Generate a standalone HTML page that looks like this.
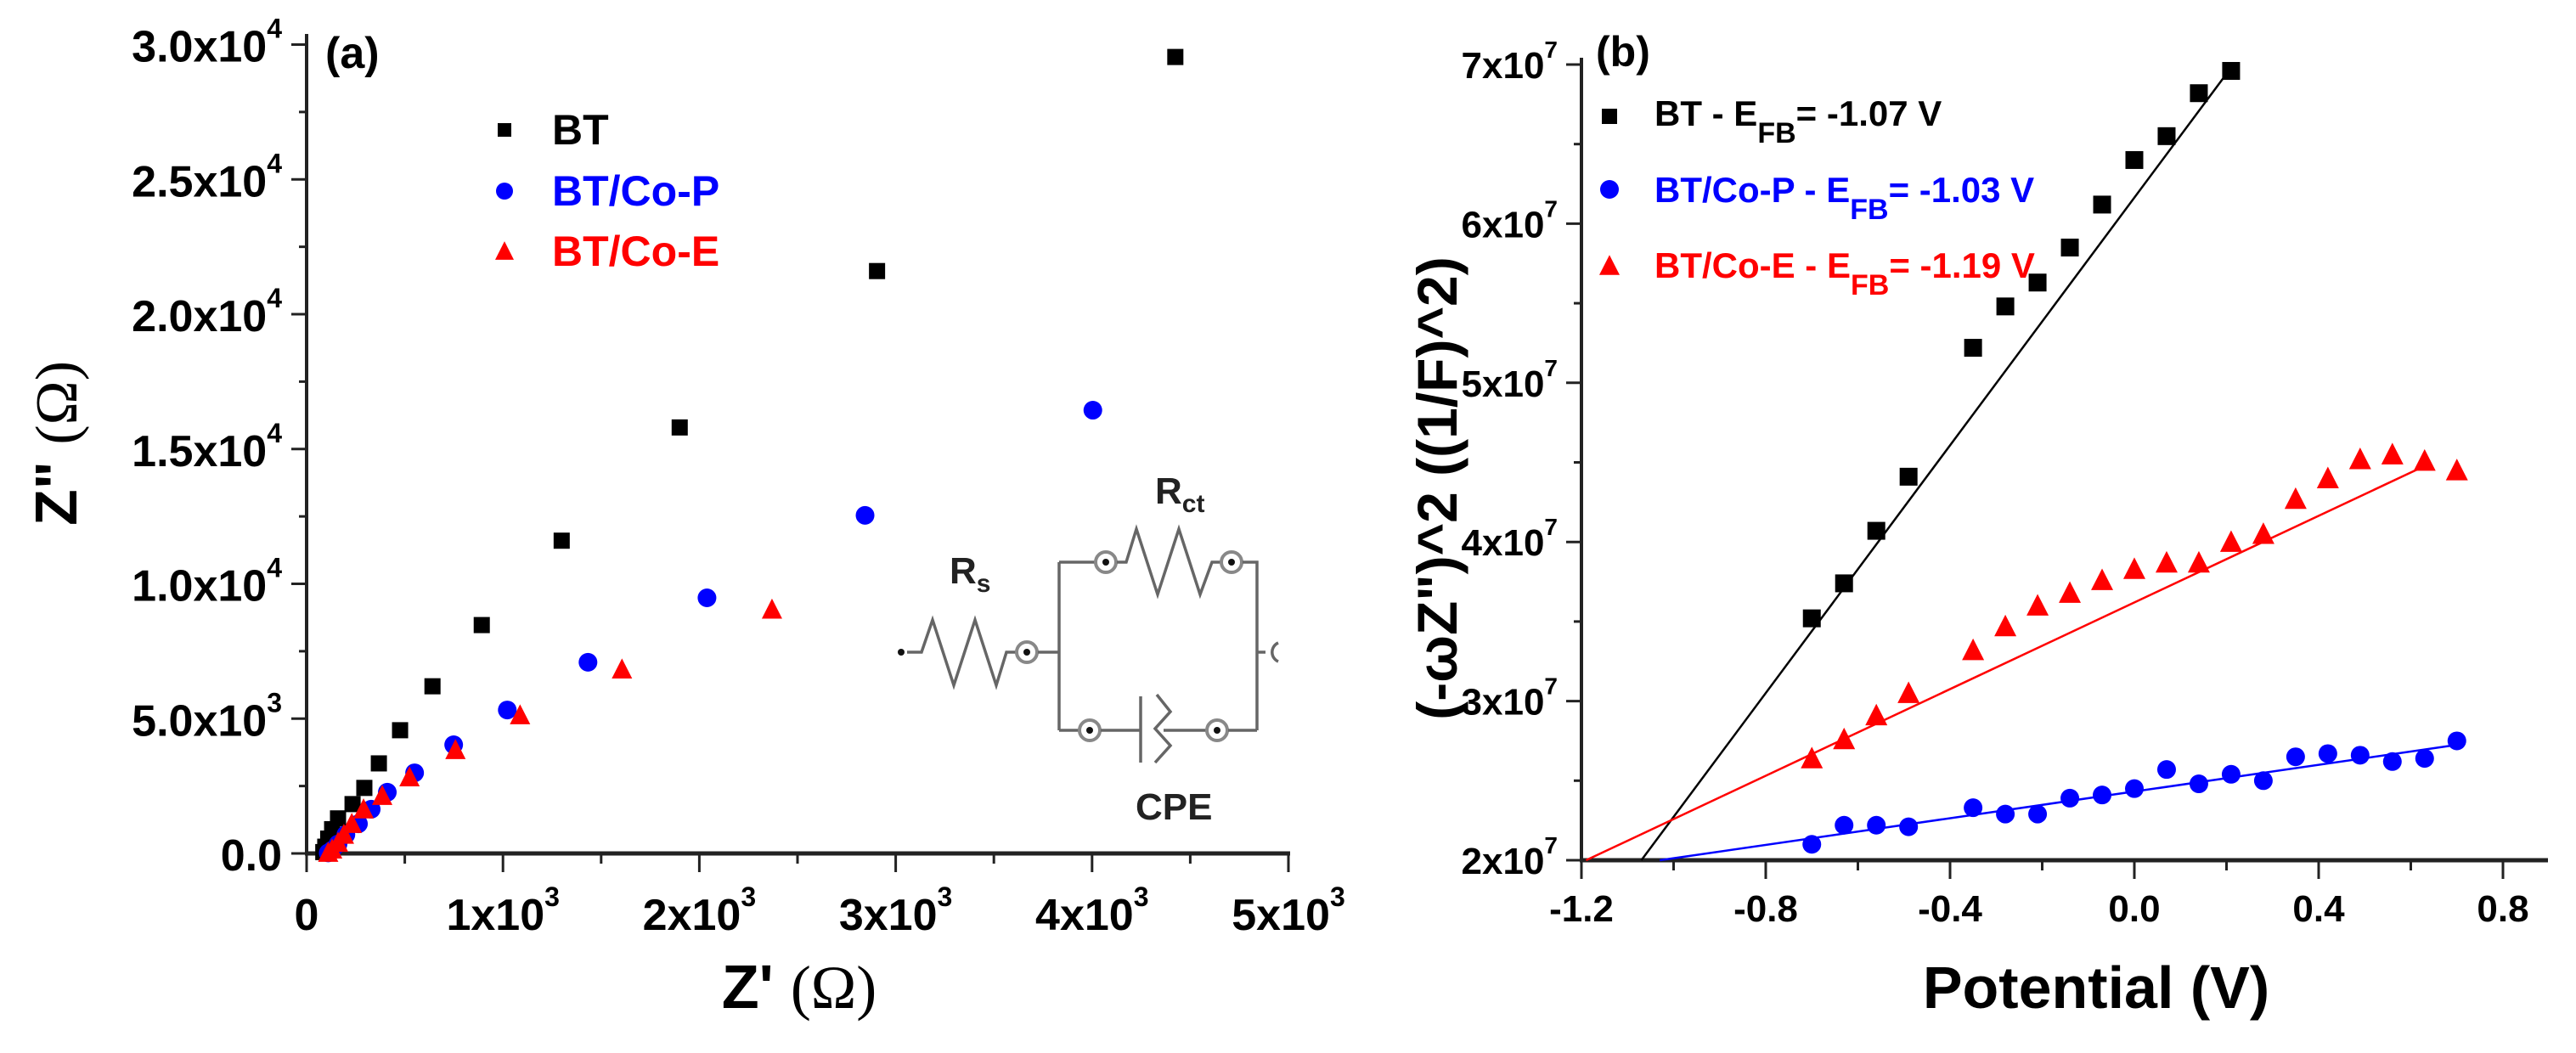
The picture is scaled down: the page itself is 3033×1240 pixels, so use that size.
<!DOCTYPE html>
<html><head><meta charset="utf-8"><style>
html,body{margin:0;padding:0;background:#fff;}
svg{display:block;font-family:"Liberation Sans",Arial,sans-serif;}
</style></head><body>
<svg id="fig" width="3033" height="1240" viewBox="0 0 3033 1240" xmlns="http://www.w3.org/2000/svg">
<rect width="3033" height="1240" fill="#fff"/>
<g id="pa"></g>
<g id="pb"></g>
<g id="circuit" stroke="#666" stroke-width="3.5" fill="none">
  <circle cx="1061" cy="768" r="4" fill="#111" stroke="none"/>
  <polyline points="1068,768 1085,768 1098,730 1123,807 1148,730 1173,807 1185,768 1196,768"/>
  <circle cx="1209" cy="768" r="12" stroke="#888" stroke-width="4"/><circle cx="1209" cy="768" r="4" fill="#111" stroke="none"/>
  <polyline points="1222,768 1247,768"/>
  <polyline points="1247,662 1247,860"/>
  <polyline points="1247,662 1289,662"/>
  <circle cx="1302" cy="662" r="12" stroke="#888" stroke-width="4"/><circle cx="1302" cy="662" r="4" fill="#111" stroke="none"/>
  <polyline points="1315,662 1326,662 1338,623 1363,700 1388,623 1413,700 1427,662 1437,662"/>
  <circle cx="1450" cy="662" r="12" stroke="#888" stroke-width="4"/><circle cx="1450" cy="662" r="4" fill="#111" stroke="none"/>
  <polyline points="1463,662 1480,662 1480,860"/>
  <polyline points="1247,860 1270,860"/>
  <circle cx="1283" cy="860" r="12" stroke="#888" stroke-width="4"/><circle cx="1283" cy="860" r="4" fill="#111" stroke="none"/>
  <polyline points="1296,860 1343,860"/>
  <polyline points="1343,820 1343,898"/>
  <polyline points="1362,818 1378,838 1360,858 1378,878 1360,898"/>
  <polyline points="1370,860 1420,860"/>
  <circle cx="1433" cy="860" r="12" stroke="#888" stroke-width="4"/><circle cx="1433" cy="860" r="4" fill="#111" stroke="none"/>
  <polyline points="1446,860 1480,860"/>
  <polyline points="1480,768 1490,768"/>
  <path d="M1505,757 A12,12 0 0 0 1505,779"/>
  <text x="1118" y="687" fill="#222" stroke="none" font-size="44" font-weight="bold">R<tspan font-size="30" dy="10">s</tspan></text>
  <text x="1360" y="593" fill="#222" stroke="none" font-size="44" font-weight="bold">R<tspan font-size="30" dy="10">ct</tspan></text>
  <text x="1337" y="965" fill="#222" stroke="none" font-size="44" font-weight="bold">CPE</text>
</g>
</svg>
<script>
// ---------- Panel (a) data ----------
const aXTicks = [0, 1000, 2000, 3000, 4000, 5000];
const aXTickLabels = ["0", "1x10", "2x10", "3x10", "4x10", "5x10"];
const aYTicks = [0, 5000, 10000, 15000, 20000, 25000, 30000];
const aYTickLabels = ["0.0", "5.0x10", "1.0x10", "1.5x10", "2.0x10", "2.5x10", "3.0x10"];
const aYTickExp = ["", "3", "4", "4", "4", "4", "4"];
const btX = [85, 95, 110, 130, 160, 234, 294, 368, 476, 641, 892, 1299, 1900, 2905, 4424];
const btY = [50, 250, 550, 900, 1300, 1830, 2430, 3340, 4570, 6200, 8470, 11600, 15800, 21600, 29540];
const coPX = [110, 130, 160, 200, 264, 329, 411, 550, 749, 1022, 1433, 2039, 2844, 4004];
const coPY = [20, 120, 350, 700, 1100, 1640, 2270, 2990, 4030, 5320, 7090, 9480, 12540, 16440];
const coEX = [110, 130, 160, 190, 230, 290, 385, 524, 758, 1087, 1606, 2370];
const coEY = [30, 150, 400, 700, 1100, 1640, 2140, 2830, 3840, 5130, 6830, 9050];
// ---------- Panel (b) data ----------
const bXTicks = [-1.2, -0.8, -0.4, 0.0, 0.4, 0.8];
const bXTickLabels = ["-1.2", "-0.8", "-0.4", "0.0", "0.4", "0.8"];
const bYTicks = [2, 3, 4, 5, 6, 7];
const bYTickLabels = ["2x10", "3x10", "4x10", "5x10", "6x10", "7x10"];
const potBT = [-0.70, -0.63, -0.56, -0.49, -0.35, -0.28, -0.21, -0.14, -0.07, 0.0, 0.07, 0.14, 0.21];
const valBT = [3.52, 3.74, 4.07, 4.41, 5.22, 5.48, 5.63, 5.85, 6.12, 6.40, 6.55, 6.82, 6.96];
const potCo = [-0.70, -0.63, -0.56, -0.49, -0.35, -0.28, -0.21, -0.14, -0.07, 0.0, 0.07, 0.14, 0.21, 0.28, 0.35, 0.42, 0.49, 0.56, 0.63, 0.70];
const valCoP = [2.10, 2.22, 2.22, 2.21, 2.33, 2.29, 2.29, 2.39, 2.41, 2.45, 2.57, 2.48, 2.54, 2.50, 2.65, 2.67, 2.66, 2.62, 2.64, 2.75];
const valCoE = [2.64, 2.76, 2.91, 3.05, 3.32, 3.47, 3.60, 3.68, 3.76, 3.83, 3.87, 3.87, 4.00, 4.05, 4.27, 4.40, 4.52, 4.55, 4.51, 4.45];
const efb = [-1.07, -1.03, -1.19];
const fitEnd = [0.21, 0.70, 0.63];
const legendB = ["BT - E", "BT/Co-P - E", "BT/Co-E - E"];
const legendBVal = ["= -1.07 V", "= -1.03 V", "= -1.19 V"];

const NS = "http://www.w3.org/2000/svg";
function mk(parent, tag, attrs, text) {
  const e = document.createElementNS(NS, tag);
  for (const k in attrs) e.setAttribute(k, attrs[k]);
  if (text !== undefined) e.textContent = text;
  parent.appendChild(e);
  return e;
}
const ax = v => 361 + v * 0.2312;
const ay = v => 1005 - v * 0.03175;
const bx = v => 1862 + (v + 1.2) * 542.5;
const by = v => 1013 - (v - 2) * 187.4;

const pa = document.getElementById('pa');
const pb = document.getElementById('pb');

let el;
el = mk(pa, 'line', {x1: 361, y1: 40, x2: 361, y2: 1007, stroke: '#222', 'stroke-width': 4});


el = mk(pa, 'line', {x1: 359, y1: 1005, x2: 1519, y2: 1005, stroke: '#222', 'stroke-width': 5});


for (let v = 0; v <= 5000; v += 500) {
  const major = v % 1000 === 0;
  mk(pa, 'line', {x1: ax(v), y1: 1005, x2: ax(v), y2: 1005 + (major ? 22 : 12), stroke: '#222', 'stroke-width': 3});
}
for (let v = 0; v <= 30000; v += 2500) {
  const major = v % 5000 === 0;
  mk(pa, 'line', {x1: 361, y1: ay(v), x2: 361 - (major ? 18 : 9), y2: ay(v), stroke: '#222', 'stroke-width': 3});
}
aXTicks.forEach((v, i) => {
  const t = mk(pa, 'text', {x: ax(v), y: 1095, 'font-size': 52, 'font-weight': 'bold', 'text-anchor': 'middle'});
  
  
  t.textContent = aXTickLabels[i];
  if (i > 0) mk(t, 'tspan', {'font-size': 32, dy: -28}, '3');
});
aYTicks.forEach((v, i) => {
  const t = mk(pa, 'text', {x: 332, y: ay(v) + 20, 'font-size': 52, 'font-weight': 'bold', 'text-anchor': 'end'});
  
  
  t.textContent = aYTickLabels[i];
  if (aYTickExp[i]) mk(t, 'tspan', {'font-size': 32, dy: -28}, aYTickExp[i]);
});
el = mk(pa, 'text', {x: 383, y: 80, 'font-size': 52, 'font-weight': 'bold'}, '(a)');


el = mk(pa, 'text', {x: 941, y: 1187, 'font-size': 72, 'font-weight': 'bold', 'text-anchor': 'middle'});


el.textContent = "Z' ";
mk(el, 'tspan', {'font-family': '"Liberation Serif", serif', 'font-weight': 'normal'}, '(Ω)');
el = mk(pa, 'text', {x: 0, y: 0, 'font-size': 70, 'font-weight': 'bold', 'text-anchor': 'middle', transform: 'translate(90,522) rotate(-90)'});


el.textContent = 'Z" ';
mk(el, 'tspan', {'font-family': '"Liberation Serif", serif', 'font-weight': 'normal'}, '(Ω)');

function square(g, cx, cy, s, fill, name) {
  const e = mk(g, 'rect', {x: cx - s / 2, y: cy - s / 2, width: s, height: s, fill: fill});
  
  
}
function circ(g, cx, cy, r, fill, name) {
  const e = mk(g, 'circle', {cx: cx, cy: cy, r: r, fill: fill});
  
  
}
function tri(g, cx, cy, s, fill, name) {
  const h = s * 0.9;
  const e = mk(g, 'polygon', {points: `${cx},${cy - h / 2 - 2} ${cx - s / 2},${cy + h / 2} ${cx + s / 2},${cy + h / 2}`, fill: fill});
  
  
}
btX.forEach((x, i) => square(pa, ax(x), ay(btY[i]), 19, '#000', 'bt-point'));
coPX.forEach((x, i) => circ(pa, ax(coPX[i]), ay(coPY[i]), 11, '#0000ff', 'bt-co-p-point'));
coEX.forEach((x, i) => tri(pa, ax(x), ay(coEY[i]), 24, '#ff0000', 'bt-co-e-point'));

square(pa, 594, 153, 16, '#000', 'legend-bt-marker');
circ(pa, 594, 225, 10, '#0000ff', 'legend-co-p-marker');
tri(pa, 594, 296, 22, '#ff0000', 'legend-co-e-marker');
[['BT', '#000', 170], ['BT/Co-P', '#0000ff', 242], ['BT/Co-E', '#ff0000', 313]].forEach(d => {
  const t = mk(pa, 'text', {x: 650, y: d[2], 'font-size': 50, 'font-weight': 'bold', fill: d[1]}, d[0]);
  
  
});

el = mk(pb, 'line', {x1: 1862, y1: 68, x2: 1862, y2: 1015, stroke: '#222', 'stroke-width': 4});


el = mk(pb, 'line', {x1: 1860, y1: 1013, x2: 3000, y2: 1013, stroke: '#222', 'stroke-width': 5});


for (let k = 0; k <= 10; k++) {
  const v = -1.2 + k * 0.2;
  mk(pb, 'line', {x1: bx(v), y1: 1013, x2: bx(v), y2: 1013 + (k % 2 === 0 ? 22 : 12), stroke: '#222', 'stroke-width': 3});
}
for (let k = 0; k <= 10; k++) {
  const v = 2 + k * 0.5;
  mk(pb, 'line', {x1: 1862, y1: by(v), x2: 1862 - (k % 2 === 0 ? 18 : 9), y2: by(v), stroke: '#222', 'stroke-width': 3});
}
bXTicks.forEach((v, i) => {
  const t = mk(pb, 'text', {x: bx(v), y: 1085, 'font-size': 44, 'font-weight': 'bold', 'text-anchor': 'middle'}, bXTickLabels[i]);
  
  
});
bYTicks.forEach((v, i) => {
  const t = mk(pb, 'text', {x: 1834, y: by(v) + 16, 'font-size': 44, 'font-weight': 'bold', 'text-anchor': 'end'}, bYTickLabels[i]);
  
  
  mk(t, 'tspan', {'font-size': 28, dy: -24}, '7');
});
el = mk(pb, 'text', {x: 1879, y: 78, 'font-size': 50, 'font-weight': 'bold'}, '(b)');


el = mk(pb, 'text', {x: 2468, y: 1187, 'font-size': 70, 'font-weight': 'bold', 'text-anchor': 'middle'}, 'Potential (V)');


el = mk(pb, 'text', {x: 0, y: 0, 'font-size': 66, 'font-weight': 'bold', 'text-anchor': 'middle', transform: 'translate(1715,575) rotate(-90)'}, '(-ωZ")^2 ((1/F)^2)');



function slope(xs, ys) {
  const n = xs.length, mx = xs.reduce((a, b) => a + b) / n, my = ys.reduce((a, b) => a + b) / n;
  let sxy = 0, sxx = 0;
  for (let i = 0; i < n; i++) { sxy += (xs[i] - mx) * (ys[i] - my); sxx += (xs[i] - mx) ** 2; }
  return sxy / sxx;
}
const series = [[potBT, valBT, '#000'], [potCo, valCoP, '#0000ff'], [potCo, valCoE, '#ff0000']];
const fitNames = ['bt-fit-line', 'bt-co-p-fit-line', 'bt-co-e-fit-line'];
series.forEach((s, i) => {
  const m = slope(s[0], s[1]);
  const x0 = efb[i], x1 = fitEnd[i];
  const l = mk(pb, 'line', {x1: bx(x0), y1: by(2), x2: bx(x1), y2: by(2 + m * (x1 - x0)), stroke: s[2], 'stroke-width': 2.5});
  
  
});
potBT.forEach((x, i) => square(pb, bx(x), by(valBT[i]), 21, '#000', 'bt-point'));
potCo.forEach((x, i) => circ(pb, bx(x), by(valCoP[i]), 11, '#0000ff', 'bt-co-p-point'));
potCo.forEach((x, i) => tri(pb, bx(x), by(valCoE[i]), 26, '#ff0000', 'bt-co-e-point'));

square(pb, 1895, 137, 18, '#000', 'legend-bt-marker');
circ(pb, 1895, 223, 11, '#0000ff', 'legend-co-p-marker');
tri(pb, 1895, 313, 24, '#ff0000', 'legend-co-e-marker');
const lbCol = ['#000', '#0000ff', '#ff0000'], lbY = [148, 238, 327];
legendB.forEach((s, i) => {
  const t = mk(pb, 'text', {x: 1948, y: lbY[i], 'font-size': 42, 'font-weight': 'bold', fill: lbCol[i]}, s);
  
  
  mk(t, 'tspan', {'font-size': 34, dy: 20}, 'FB');
  mk(t, 'tspan', {dy: -20}, legendBVal[i]);
});
</script>
</body></html>
